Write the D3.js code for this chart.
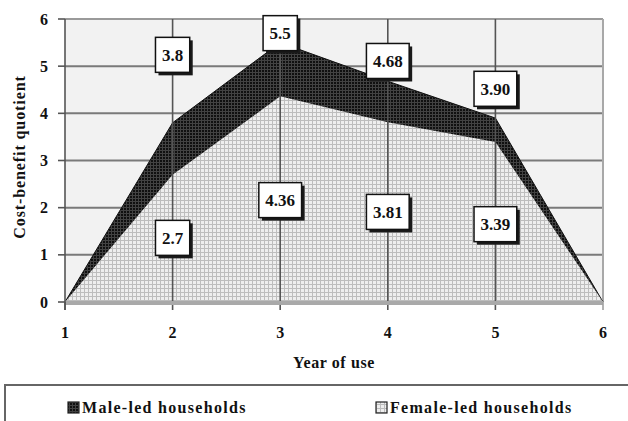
<!DOCTYPE html>
<html>
<head>
<meta charset="utf-8">
<script src="https://cdn.jsdelivr.net/npm/d3@7"></script>
<style>
  html, body { margin: 0; padding: 0; background: #fff; }
  svg { display: block; }
  text { font-family: "Liberation Serif", "Times New Roman", serif; font-weight: bold; fill: #111; }
</style>
</head>
<body>
<svg id="chart" width="628" height="421"></svg>
<script>
// Years of use and cost-benefit quotients per household type
const years = [1, 2, 3, 4, 5, 6];
const maleLed = [0, 3.8, 5.5, 4.68, 3.90, 0];
const femaleLed = [0, 2.7, 4.36, 3.81, 3.39, 0];
const maleLabels = ["3.8", "5.5", "4.68", "3.90"];
const femaleLabels = ["2.7", "4.36", "3.81", "3.39"];
const yTicks = [0, 1, 2, 3, 4, 5, 6];

// Where the value boxes sit, in quotient units (boxes were placed by hand)
const maleLabelAt = [5.24, 5.70, 5.11, 4.52];
const femaleLabelAt = [1.36, 2.16, 1.91, 1.65];

const svg = d3.select("#chart");
const plot = { left: 65, right: 603, top: 19, bottom: 302 };

const x = d3.scaleLinear().domain([1, 6]).range([plot.left, plot.right]);
const y = d3.scaleLinear().domain([0, 6]).range([plot.bottom, plot.top]);

// Fill patterns: dense dark cross-hatch and a light fine grid
const defs = svg.append("defs");
const pm = defs.append("pattern").attr("id", "pMale").attr("patternUnits", "userSpaceOnUse")
  .attr("width", 3).attr("height", 3);
pm.append("rect").attr("width", 3).attr("height", 3).attr("fill", "#101010");
pm.append("rect").attr("width", 3).attr("height", 1).attr("fill", "#424242");
pm.append("rect").attr("width", 1).attr("height", 3).attr("fill", "#424242");

const pf = defs.append("pattern").attr("id", "pFemale").attr("patternUnits", "userSpaceOnUse")
  .attr("width", 4).attr("height", 4);
pf.append("rect").attr("width", 4).attr("height", 4).attr("fill", "#eeeeee");
pf.append("rect").attr("width", 4).attr("height", 1).attr("fill", "#bdbdbd");
pf.append("rect").attr("width", 1).attr("height", 4).attr("fill", "#bdbdbd");

// Plot background
svg.append("rect")
  .attr("x", plot.left).attr("y", plot.top)
  .attr("width", plot.right - plot.left).attr("height", plot.bottom - plot.top)
  .attr("fill", "#f2f2f2");

// Horizontal gridlines
svg.append("g")
  .selectAll("line")
  .data(yTicks.filter(d => d > 0))
  .join("line")
  .attr("x1", plot.left).attr("x2", plot.right)
  .attr("y1", d => y(d)).attr("y2", d => y(d))
  .attr("stroke", d => d === 6 ? "#9a9a9a" : "#7a7a7a")
  .attr("stroke-width", 2);

// Right border of the plot
svg.append("line")
  .attr("x1", plot.right).attr("x2", plot.right)
  .attr("y1", plot.top).attr("y2", plot.bottom)
  .attr("stroke", "#a8a8a8").attr("stroke-width", 2);

// Areas: male-led behind, female-led in front
const area = vals => d3.area()
  .x((d, i) => x(years[i]))
  .y0(y(0))
  .y1(d => y(d))(vals);

svg.append("path").attr("d", area(maleLed))
  .attr("fill", "url(#pMale)").attr("stroke", "#111").attr("stroke-width", 1);
svg.append("path").attr("d", area(femaleLed))
  .attr("fill", "url(#pFemale)");

// Vertical lines at each year, running through the areas down to the tick marks
svg.append("g")
  .selectAll("line")
  .data(years.slice(1, -1))
  .join("line")
  .attr("x1", d => x(d)).attr("x2", d => x(d))
  .attr("y1", plot.top).attr("y2", plot.bottom + 8)
  .attr("stroke", "#555").attr("stroke-width", 1.6);

// X axis band and ticks
svg.append("line")
  .attr("x1", plot.left).attr("x2", plot.right)
  .attr("y1", plot.bottom + 1).attr("y2", plot.bottom + 1)
  .attr("stroke", "#a9a9a9").attr("stroke-width", 4);
svg.append("g")
  .selectAll("line")
  .data([1, 6])
  .join("line")
  .attr("x1", d => x(d)).attr("x2", d => x(d))
  .attr("y1", plot.bottom).attr("y2", plot.bottom + 8)
  .attr("stroke", d => d === 1 ? "#555" : "#a0a0a0").attr("stroke-width", 1.6);

// Y axis line and ticks
svg.append("line")
  .attr("x1", plot.left).attr("x2", plot.left)
  .attr("y1", plot.top).attr("y2", plot.bottom + 8)
  .attr("stroke", "#555").attr("stroke-width", 1.6);
svg.append("g")
  .selectAll("line")
  .data(yTicks)
  .join("line")
  .attr("x1", plot.left - 7).attr("x2", plot.left)
  .attr("y1", d => y(d)).attr("y2", d => y(d))
  .attr("stroke", "#555").attr("stroke-width", 1.6);

// Tick labels
svg.append("g")
  .selectAll("text")
  .data(yTicks)
  .join("text")
  .attr("x", 48).attr("y", d => y(d) + 5.5)
  .attr("text-anchor", "end")
  .attr("font-size", 16)
  .text(d => d);
svg.append("g")
  .selectAll("text")
  .data(years)
  .join("text")
  .attr("x", d => x(d)).attr("y", 338)
  .attr("text-anchor", "middle")
  .attr("font-size", 16)
  .text(d => d);

// Axis titles
svg.append("text")
  .attr("x", x(3.5)).attr("y", 368)
  .attr("text-anchor", "middle")
  .attr("font-size", 16)
  .attr("letter-spacing", 0.6)
  .text("Year of use");
svg.append("text")
  .attr("transform", "translate(25,157) rotate(-90)")
  .attr("text-anchor", "middle")
  .attr("font-size", 16)
  .attr("letter-spacing", 0.9)
  .text("Cost-benefit quotient");

// Value boxes with a drop shadow
function valueBoxes(labels, at) {
  const g = svg.append("g");
  labels.forEach((t, i) => {
    const cx = x(years[i + 1]);
    const cy = y(at[i]);
    const lbl = g.append("g");
    const txt = lbl.append("text")
      .attr("x", cx).attr("y", cy + 6)
      .attr("text-anchor", "middle")
      .attr("font-size", 17)
      .text(t);
    const w = txt.node().getComputedTextLength() + 13;
    const h = 35;
    lbl.insert("rect", "text")
      .attr("x", cx - w / 2 + 3).attr("y", cy - h / 2 + 3)
      .attr("width", w).attr("height", h)
      .attr("fill", "#1a1a1a");
    lbl.insert("rect", "text")
      .attr("x", cx - w / 2).attr("y", cy - h / 2)
      .attr("width", w).attr("height", h)
      .attr("fill", "#fff").attr("stroke", "#111").attr("stroke-width", 1.5);
  });
}
valueBoxes(maleLabels, maleLabelAt);
valueBoxes(femaleLabels, femaleLabelAt);

// Legend frame
svg.append("path")
  .attr("d", "M5,421 V385 H628")
  .attr("fill", "none").attr("stroke", "#666").attr("stroke-width", 2);

const legend = [
  { name: "Male-led households", fill: "url(#pMale)", x: 68 },
  { name: "Female-led households", fill: "url(#pFemale)", x: 376 }
];
const lg = svg.append("g").selectAll("g").data(legend).join("g");
lg.append("rect")
  .attr("x", d => d.x).attr("y", 402)
  .attr("width", 11).attr("height", 11)
  .attr("fill", d => d.fill).attr("stroke", "#222").attr("stroke-width", 1.2);
lg.append("text")
  .attr("x", d => d.x + 14).attr("y", 413)
  .attr("font-size", 16)
  .attr("letter-spacing", 1.3)
  .text(d => d.name);
</script>
</body>
</html>
